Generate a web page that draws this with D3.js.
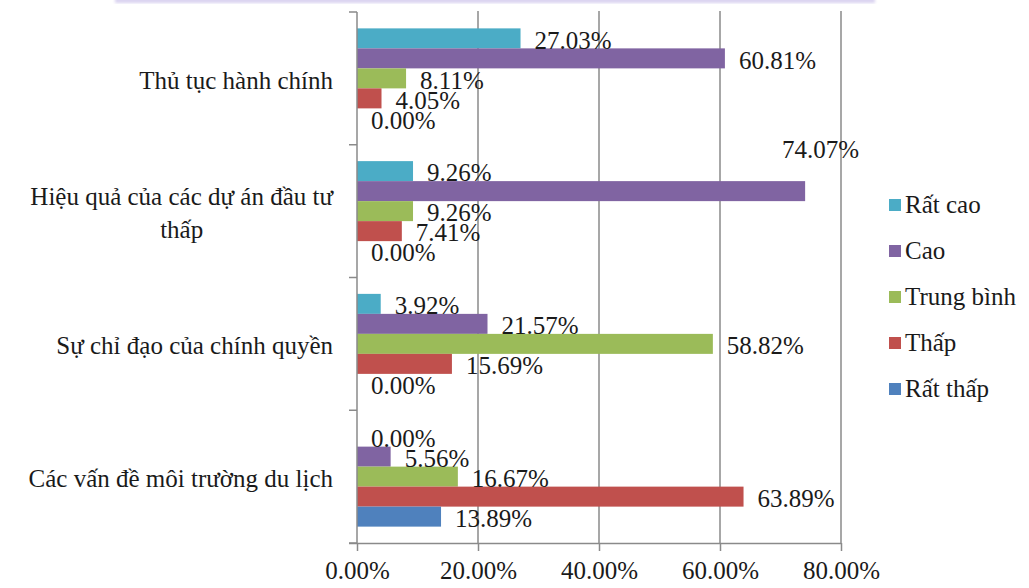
<!DOCTYPE html>
<html>
<head>
<meta charset="utf-8">
<script src="https://cdn.jsdelivr.net/npm/d3@7"></script>
<style>
  html, body { margin: 0; padding: 0; background: #fff; }
  svg { display: block; }
  svg text { font-family: "Liberation Serif", "Tinos", "Times New Roman", "DejaVu Serif", serif !important; fill: #1a1a1a; }
</style>
</head>
<body>
<svg id="chart" width="1029" height="588"></svg>
<script>
// Categories (top to bottom) and series values in percent
const categories = [
  "Thủ tục hành chính",
  "Hiệu quả của các dự án đầu tư thấp",
  "Sự chỉ đạo của chính quyền",
  "Các vấn đề môi trường du lịch"
];
const seriesNames = ["Rất cao", "Cao", "Trung bình", "Thấp", "Rất thấp"];
const seriesColors = ["#4BACC6", "#8064A2", "#9BBB59", "#C0504D", "#4F81BD"];
const rat_cao    = [27.03, 9.26, 3.92, 0.00];
const cao        = [60.81, 74.07, 21.57, 5.56];
const trung_binh = [8.11, 9.26, 58.82, 16.67];
const thap       = [4.05, 7.41, 15.69, 63.89];
const rat_thap   = [0.00, 0.00, 0.00, 13.89];
const seriesValues = [rat_cao, cao, trung_binh, thap, rat_thap];
const xTicks = [0, 20, 40, 60, 80];

const fmt = v => v.toFixed(2) + "%";
const FONT_FAMILY = '"Liberation Serif", "Tinos", "Times New Roman", "DejaVu Serif", serif';

const svg = d3.select("#chart").attr("font-family", FONT_FAMILY);
const plot = { left: 357, right: 841, top: 12, bottom: 543 };
const FONT = 25;

// faint band along the top edge
const defs = svg.append("defs");
defs.append("filter").attr("id", "soft")
  .append("feGaussianBlur").attr("stdDeviation", 1.5);
svg.append("rect").attr("x", 115).attr("y", -2).attr("width", 760).attr("height", 5)
  .attr("fill", "#d9d2f0").attr("filter", "url(#soft)");

const x = d3.scaleLinear().domain([0, 80]).range([plot.left, plot.right]);
const pad = 0.2467;
const y = d3.scaleBand().domain(categories).range([plot.top, plot.bottom])
  .paddingInner(pad).paddingOuter(pad / 2);
const ySub = d3.scaleBand().domain(seriesNames).range([0, y.bandwidth()]);

// vertical gridlines
svg.append("g").selectAll("line").data(xTicks.filter(t => t > 0)).join("line")
  .attr("x1", d => x(d)).attr("x2", d => x(d))
  .attr("y1", plot.top - 1).attr("y2", plot.bottom)
  .attr("stroke", "#8a8a8a").attr("stroke-width", 1.5);

// bars
const rows = [];
categories.forEach((c, ci) => {
  seriesNames.forEach((s, si) => rows.push({ c, ci, s, si, v: seriesValues[si][ci] }));
});
svg.append("g").selectAll("rect").data(rows).join("rect")
  .attr("x", x(0))
  .attr("y", d => y(d.c) + ySub(d.s))
  .attr("width", d => x(d.v) - x(0))
  .attr("height", ySub.bandwidth())
  .attr("fill", d => seriesColors[d.si]);

// x axis
const xAxis = d3.axisBottom(x).tickValues(xTicks).tickFormat(fmt).tickSize(8).tickPadding(10);
const gx = svg.append("g").attr("transform", `translate(0,${plot.bottom})`).call(xAxis)
  .attr("font-family", FONT_FAMILY);
gx.select(".domain").attr("d", `M${plot.left - 8},0.5H${plot.right}`)
  .attr("stroke", "#8a8a8a").attr("stroke-width", 1.5);
gx.selectAll(".tick line").attr("stroke", "#8a8a8a").attr("stroke-width", 1.5);
gx.selectAll(".tick text").attr("font-size", FONT).attr("fill", "#1a1a1a");

// y axis: line with ticks at category boundaries
const gy = svg.append("g");
gy.append("line").attr("x1", plot.left).attr("x2", plot.left)
  .attr("y1", plot.top).attr("y2", plot.bottom)
  .attr("stroke", "#8a8a8a").attr("stroke-width", 1.5);
const bounds = categories.map(c => y(c) - y.step() * pad / 2).concat([plot.bottom]);
gy.selectAll("line.tk").data(bounds).join("line").attr("class", "tk")
  .attr("x1", plot.left - 8).attr("x2", plot.left)
  .attr("y1", d => d).attr("y2", d => d)
  .attr("stroke", "#8a8a8a").attr("stroke-width", 1.5);

// category labels, wrapped and right-aligned
const labelRight = 333, lineH = 33, maxW = 322;
categories.forEach(c => {
  const t = svg.append("text").attr("font-size", FONT).attr("text-anchor", "middle");
  const words = c.split(" ");
  const lines = [];
  let cur = [];
  const probe = svg.append("text").attr("font-size", FONT);
  words.forEach(w => {
    const test = cur.concat([w]).join(" ");
    probe.text(test);
    if (probe.node().getComputedTextLength() > maxW && cur.length) {
      lines.push(cur.join(" ")); cur = [w];
    } else cur.push(w);
  });
  lines.push(cur.join(" "));
  probe.text(lines[0]);
  const w0 = probe.node().getComputedTextLength();
  probe.remove();
  const cx = labelRight - w0 / 2;
  const cy = y(c) + y.bandwidth() / 2 + 2;
  lines.forEach((ln, i) => {
    t.append("tspan").attr("x", cx)
      .attr("y", cy + (i - (lines.length - 1) / 2) * lineH)
      .attr("dy", "0.33em").text(ln);
  });
});

// value labels beside each bar
const labelNudge = { "1-1": { dx: -37, dy: -43 } };
svg.append("g").selectAll("text").data(rows).join("text")
  .attr("font-size", FONT)
  .attr("x", d => x(d.v) + 14 + ((labelNudge[d.ci + "-" + d.si] || {}).dx || 0))
  .attr("y", d => y(d.c) + ySub(d.s) + ySub.bandwidth() / 2 + 2 + ((labelNudge[d.ci + "-" + d.si] || {}).dy || 0))
  .attr("dy", "0.33em")
  .text(d => fmt(d.v));

// legend
const legend = svg.append("g");
seriesNames.forEach((s, i) => {
  const cy = 205 + i * 46;
  legend.append("rect").attr("x", 889).attr("y", cy - 6).attr("width", 12).attr("height", 12)
    .attr("fill", seriesColors[i]);
  legend.append("text").attr("x", 905).attr("y", cy).attr("dy", "0.33em")
    .attr("font-size", FONT).text(s);
});
</script>
</body>
</html>
